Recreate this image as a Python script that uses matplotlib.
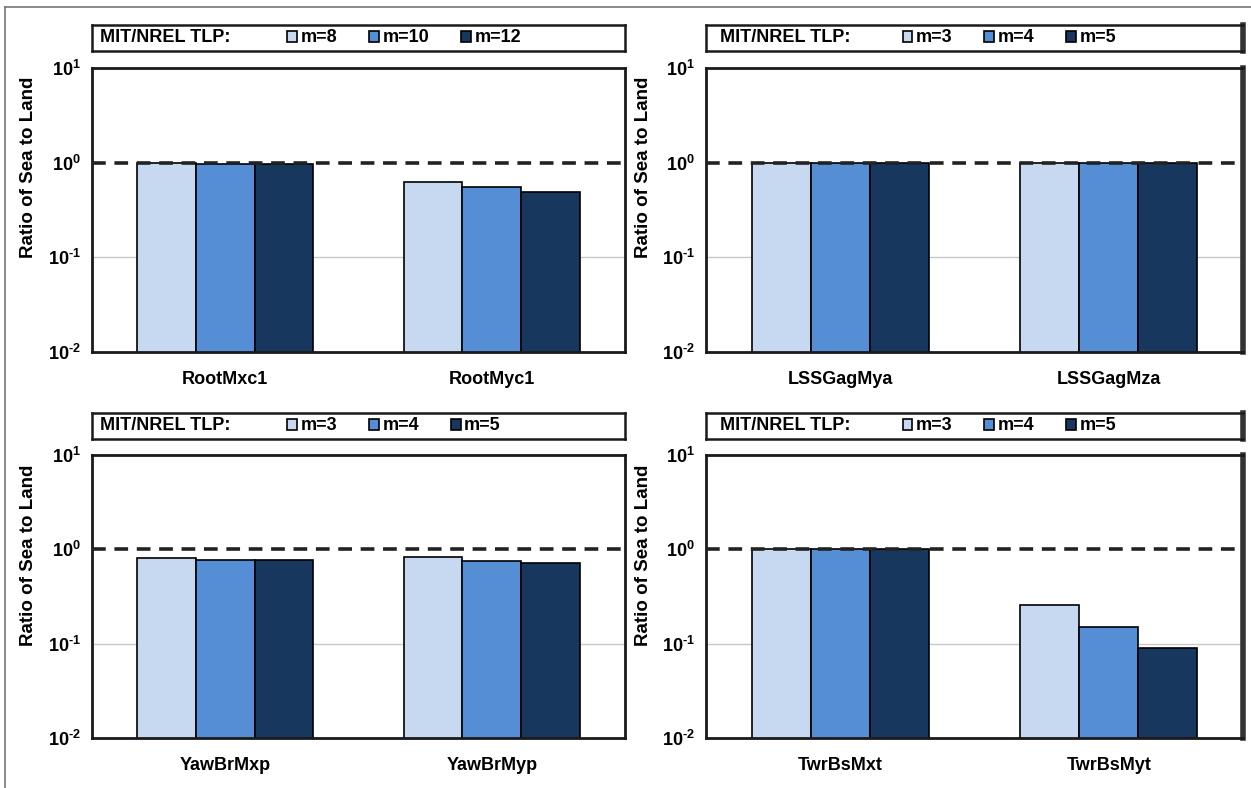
import matplotlib
matplotlib.use("Agg")
import matplotlib.pyplot as plt
import numpy as np
from matplotlib.lines import Line2D
from matplotlib.ticker import FixedLocator, FixedFormatter, NullLocator

plt.rcParams['font.family'] = ['Liberation Sans', 'DejaVu Sans']
plt.rcParams['font.weight'] = 'bold'
plt.rcParams['mathtext.fontset'] = 'custom'
plt.rcParams['mathtext.rm'] = 'Liberation Sans:bold'
plt.rcParams['mathtext.bf'] = 'Liberation Sans:bold'
plt.rcParams['mathtext.it'] = 'Liberation Sans:bold'

# ---------------- data ----------------
legend_title = "MIT/NREL TLP:"
ylabel = "Ratio of Sea to Land"

cats_tl = ["RootMxc1", "RootMyc1"]
labels_tl = ["m=8", "m=10", "m=12"]
vals_tl_a = [0.98, 0.63]   # m=8
vals_tl_b = [0.97, 0.56]   # m=10
vals_tl_c = [0.96, 0.49]   # m=12

cats_tr = ["LSSGagMya", "LSSGagMza"]
labels_tr = ["m=3", "m=4", "m=5"]
vals_tr_a = [0.98, 0.99]
vals_tr_b = [0.98, 0.99]
vals_tr_c = [0.98, 0.99]

cats_bl = ["YawBrMxp", "YawBrMyp"]
labels_bl = ["m=3", "m=4", "m=5"]
vals_bl_a = [0.80, 0.82]
vals_bl_b = [0.77, 0.76]
vals_bl_c = [0.78, 0.72]

cats_br = ["TwrBsMxt", "TwrBsMyt"]
labels_br = ["m=3", "m=4", "m=5"]
vals_br_a = [1.02, 0.26]
vals_br_b = [1.00, 0.149]
vals_br_c = [1.00, 0.089]

yticks = [1e-2, 1e-1, 1e0, 1e1]
ytick_labels = [r'10$^{\text{-2}}$', r'10$^{\text{-1}}$', r'10$^{\text{0}}$', r'10$^{\text{1}}$']
reference_level = 1.0

colors = ["#C6D9F1", "#558ED5", "#17375E"]

panels = [
    (cats_tl, labels_tl, [vals_tl_a, vals_tl_b, vals_tl_c]),
    (cats_tr, labels_tr, [vals_tr_a, vals_tr_b, vals_tr_c]),
    (cats_bl, labels_bl, [vals_bl_a, vals_bl_b, vals_bl_c]),
    (cats_br, labels_br, [vals_br_a, vals_br_b, vals_br_c]),
]

# ---------------- layout ----------------
W, H = 1251, 788
fig = plt.figure(figsize=(W / 100, H / 100), dpi=100)

def fx(px):
    return px / W

def fy(py):
    return 1 - py / H

# (left px, right px, top px, bottom px) of plotting axes; legend box top/bottom
boxes = [
    (92, 625, 68, 352, 25, 51),
    (706, 1243, 68, 352, 25, 51),
    (92, 625, 455, 738, 413, 439),
    (706, 1243, 455, 738, 413, 439),
]

bar_w = 0.22
for i, ((cats, labs, series), (l, r, t, b, lt, lb)) in enumerate(zip(panels, boxes)):
    ax = fig.add_axes([fx(l), fy(b), fx(r - l), fy(t) - fy(b)])
    x = np.arange(len(cats))
    handles = []
    for k, (vals, col) in enumerate(zip(series, colors)):
        h = ax.bar(x + (k - 1) * bar_w, vals, width=bar_w, color=col,
                   edgecolor='black', linewidth=1.2, zorder=2, bottom=0)
        handles.append(h)
    ax.set_yscale('log')
    ax.set_ylim(1e-2, 1e1)
    ax.set_xlim(-0.5, len(cats) - 0.5)
    ax.yaxis.set_major_locator(FixedLocator(yticks))
    ax.yaxis.set_major_formatter(FixedFormatter(ytick_labels))
    ax.yaxis.set_minor_locator(NullLocator())
    ax.set_xticks(x)
    ax.set_xticklabels(cats, fontsize=13, fontweight='bold')
    ax.tick_params(axis='both', length=0)
    ax.tick_params(axis='x', pad=14)
    ax.tick_params(axis='y', labelsize=13, pad=8)
    for lab in ax.get_yticklabels():
        lab.set_fontweight('bold')
    ax.axhline(0.1, color='#c8c8c8', lw=1.0, zorder=1)
    ax.axhline(reference_level, color='#222222', lw=2.6, ls=(0, (3.8, 2.4)), zorder=3)
    for s in ax.spines.values():
        s.set_linewidth(2.0)
        s.set_color('#1a1a1a')
    if i % 2 == 1:
        ax.spines['right'].set_linewidth(4.0)
        ax.spines['right'].set_color('#333333')
    ax.set_ylabel(ylabel, fontsize=13.5, fontweight='bold', va='center')
    ycen = 167 if i < 2 else 555
    ax.yaxis.set_label_coords(-63 / (r - l), (b - ycen) / (b - t))

    # legend box
    lax = fig.add_axes([fx(l), fy(lb), fx(r - l), fy(lt) - fy(lb)])
    lax.set_xticks([])
    lax.set_yticks([])
    for s in lax.spines.values():
        s.set_linewidth(1.8)
        s.set_color('#1a1a1a')
    if i % 2 == 1:
        lax.spines['right'].set_linewidth(4.0)
        lax.spines['right'].set_color('#333333')
    lax.text(0.015 if i % 2 == 0 else 0.026, 0.5, legend_title,
             transform=lax.transAxes, ha='left', va='center',
             fontsize=13, fontweight='bold')
    lax.legend(handles, labs, ncol=3, loc='center left',
               bbox_to_anchor=(0.366, 0.5), frameon=False,
               handlelength=0.55, handleheight=0.55, handletextpad=0.2,
               columnspacing=1.75, borderpad=0, borderaxespad=0,
               prop={'weight': 'bold', 'size': 13})

# outer border lines
fig.add_artist(Line2D([fx(5), 1.0], [fy(7), fy(7)], color='#777777', lw=1.2))
fig.add_artist(Line2D([fx(5), fx(5)], [fy(7), 0.0], color='#777777', lw=1.2))

fig.savefig("out.png", dpi=100, facecolor='white')
